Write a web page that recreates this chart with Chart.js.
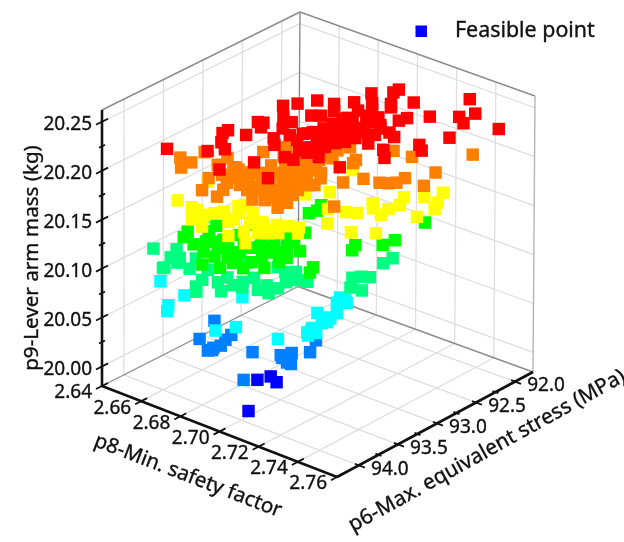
<!DOCTYPE html>
<html>
<head>
<meta charset="utf-8">
<title>Feasible points</title>
<script src="https://cdn.jsdelivr.net/npm/chart.js@4/dist/chart.umd.js"></script>
<style>
  html, body { margin: 0; padding: 0; background: #fff; }
  canvas { display: block; }
</style>
</head>
<body>
<canvas id="scatter3d" width="624" height="542"></canvas>
<script>
// tick labels
const p8TickLabels = ['2.64', '2.66', '2.68', '2.70', '2.72', '2.74', '2.76'];
const p6TickLabels = ['92.0', '92.5', '93.0', '93.5', '94.0'];
const p9TickLabels = ['20.00', '20.05', '20.10', '20.15', '20.20', '20.25'];
const p6MinorTicks = [92.25, 92.75, 93.25, 93.75];
const p9MinorTicks = [20.025, 20.075, 20.125, 20.175, 20.225];

// axis limits of the box
const p8Range = [2.64, 2.76];
const p6Range = [91.77, 94.28];
const p9Range = [19.98, 20.262];

// mass level of each group of points, and the colour it gets
const massLevels = [20.00, 20.04, 20.08, 20.11, 20.14, 20.17, 20.20, 20.23];
const levelColors = ['#0000ff', '#0080ff', '#00ffff', '#00ff80', '#00ff00', '#ffff00', '#ff8000', '#ff0000'];

// p8 min safety factor / p6 max equivalent stress
const p8Level0 = [2.693, 2.695, 2.700, 2.708];
const p6Level0 = [93.62, 93.50, 93.55, 94.11];

const p8Level1 = [2.669, 2.675, 2.684, 2.684, 2.685, 2.683, 2.682, 2.685, 2.698, 2.711, 2.708, 2.710, 2.714, 2.716, 2.710, 2.712, 2.715, 2.710];
const p6Level1 = [93.57, 93.91, 94.03, 93.96, 93.89, 93.78, 93.68, 94.00, 93.81, 94.25, 93.70, 93.61, 93.77, 93.77, 93.73, 93.70, 93.50, 93.30];

const p8Level2 = [2.653, 2.668, 2.669, 2.672, 2.697, 2.701, 2.686, 2.720, 2.715, 2.720, 2.717, 2.723, 2.724, 2.722, 2.717, 2.724, 2.724, 2.725, 2.728, 2.725, 2.725, 2.727, 2.718];
const p6Level2 = [93.86, 93.93, 94.16, 94.25, 94.26, 94.10, 93.64, 94.04, 93.12, 93.16, 93.21, 93.36, 93.47, 93.48, 93.46, 93.58, 93.70, 93.79, 93.75, 93.54, 93.74, 93.83, 93.13];

const p8Level3 = [2.649, 2.656, 2.659, 2.663, 2.671, 2.667, 2.681, 2.683, 2.686, 2.687, 2.693, 2.687, 2.694, 2.697, 2.703, 2.703, 2.708, 2.684, 2.677, 2.664, 2.707, 2.704, 2.709, 2.708, 2.713, 2.696, 2.724, 2.726, 2.729, 2.729, 2.734, 2.725, 2.725, 2.663, 2.693, 2.701, 2.662, 2.695];
const p6Level3 = [93.85, 93.73, 93.88, 94.08, 93.94, 93.76, 94.03, 94.16, 94.23, 93.98, 94.09, 93.86, 93.84, 93.92, 93.87, 93.76, 93.86, 93.55, 93.86, 93.92, 93.61, 93.41, 93.52, 93.74, 93.49, 93.44, 93.19, 93.13, 93.09, 93.34, 93.32, 92.82, 92.70, 94.06, 93.94, 93.47, 93.84, 93.72];

const p8Level4 = [2.662, 2.671, 2.666, 2.668, 2.677, 2.679, 2.687, 2.682, 2.682, 2.688, 2.689, 2.696, 2.697, 2.703, 2.709, 2.694, 2.702, 2.695, 2.684, 2.696, 2.700, 2.696, 2.710, 2.723, 2.725, 2.710, 2.691, 2.690, 2.692, 2.701, 2.700, 2.704, 2.723, 2.725, 2.731, 2.732, 2.731, 2.704, 2.687, 2.681, 2.693, 2.703, 2.692, 2.702, 2.696, 2.691, 2.703, 2.683, 2.672, 2.675, 2.710];
const p6Level4 = [93.55, 93.60, 93.84, 93.94, 93.88, 93.85, 93.85, 93.37, 94.04, 94.05, 94.23, 94.18, 94.04, 94.06, 93.94, 93.72, 93.69, 93.94, 93.91, 93.67, 93.62, 93.33, 93.51, 93.67, 93.76, 93.68, 92.92, 92.74, 92.84, 93.22, 93.42, 93.53, 93.13, 93.22, 92.98, 92.85, 92.44, 93.65, 93.65, 93.76, 93.85, 93.82, 93.98, 93.93, 93.49, 93.53, 93.41, 93.61, 93.72, 93.99, 93.78];

const p8Level5 = [2.660, 2.662, 2.670, 2.677, 2.684, 2.680, 2.689, 2.683, 2.687, 2.697, 2.706, 2.699, 2.691, 2.696, 2.701, 2.705, 2.707, 2.710, 2.699, 2.713, 2.716, 2.706, 2.702, 2.719, 2.718, 2.722, 2.731, 2.711, 2.696, 2.739, 2.721, 2.724, 2.730, 2.729, 2.730, 2.727, 2.742, 2.733, 2.743, 2.740, 2.736, 2.696, 2.673, 2.689, 2.704, 2.709, 2.682, 2.685, 2.678];
const p6Level5 = [93.44, 93.87, 93.89, 94.06, 94.11, 93.85, 93.83, 93.62, 93.71, 94.10, 94.11, 93.95, 93.64, 93.80, 93.75, 93.68, 93.85, 93.79, 93.72, 93.60, 93.69, 93.79, 92.93, 93.39, 93.13, 93.08, 93.39, 93.18, 93.09, 93.27, 92.86, 92.93, 92.98, 92.86, 92.74, 92.61, 92.82, 92.50, 92.62, 92.51, 92.34, 92.49, 93.90, 93.90, 93.90, 93.64, 93.78, 93.55, 93.93];

const p8Level6 = [2.655, 2.661, 2.661, 2.659, 2.676, 2.680, 2.688, 2.686, 2.683, 2.670, 2.669, 2.676, 2.684, 2.693, 2.700, 2.704, 2.712, 2.710, 2.680, 2.684, 2.703, 2.687, 2.692, 2.697, 2.701, 2.708, 2.708, 2.702, 2.696, 2.694, 2.728, 2.717, 2.697, 2.698, 2.709, 2.699, 2.695, 2.697, 2.712, 2.705, 2.696, 2.694, 2.721, 2.728, 2.731, 2.733, 2.733, 2.743, 2.739, 2.740, 2.723, 2.714, 2.708, 2.695, 2.684, 2.677, 2.700, 2.686, 2.705, 2.688, 2.697, 2.705, 2.708, 2.701, 2.702, 2.692, 2.686, 2.690, 2.688, 2.682, 2.691, 2.698, 2.710, 2.703, 2.677, 2.695, 2.697, 2.693, 2.679, 2.709, 2.675];
const p6Level6 = [93.66, 93.67, 93.80, 93.45, 93.13, 94.01, 94.02, 93.89, 93.77, 93.56, 93.41, 93.51, 93.60, 93.76, 93.87, 93.81, 93.85, 93.70, 92.94, 93.07, 93.59, 93.45, 93.36, 93.28, 93.20, 93.20, 93.37, 93.43, 93.54, 93.67, 93.53, 93.14, 92.71, 92.82, 92.81, 92.60, 93.06, 92.94, 93.73, 93.54, 93.10, 93.26, 92.98, 92.95, 92.91, 92.86, 92.75, 92.76, 92.51, 92.06, 92.41, 92.42, 92.75, 92.27, 93.49, 93.50, 92.85, 92.98, 93.12, 93.61, 93.68, 93.70, 93.49, 93.32, 93.11, 93.05, 93.28, 93.20, 93.73, 93.67, 93.43, 93.43, 93.33, 93.71, 93.68, 93.73, 93.19, 93.57, 93.52, 93.59, 93.80];

const p8Level7 = [2.663, 2.670, 2.670, 2.675, 2.676, 2.680, 2.678, 2.674, 2.676, 2.678, 2.688, 2.692, 2.672, 2.679, 2.685, 2.684, 2.675, 2.679, 2.686, 2.690, 2.686, 2.689, 2.696, 2.690, 2.709, 2.702, 2.706, 2.724, 2.712, 2.695, 2.696, 2.704, 2.706, 2.697, 2.699, 2.698, 2.701, 2.697, 2.705, 2.702, 2.702, 2.694, 2.696, 2.697, 2.691, 2.691, 2.697, 2.701, 2.703, 2.697, 2.697, 2.709, 2.724, 2.731, 2.734, 2.736, 2.750, 2.740, 2.722, 2.716, 2.715, 2.735, 2.739, 2.727, 2.732, 2.723, 2.719, 2.714, 2.703, 2.707, 2.705, 2.711, 2.719, 2.712, 2.705, 2.697, 2.705, 2.708, 2.704, 2.712, 2.703, 2.704, 2.708, 2.709, 2.702, 2.711, 2.701, 2.691, 2.716, 2.707, 2.708, 2.705, 2.708];
const p6Level7 = [94.03, 93.43, 93.50, 93.64, 93.84, 93.72, 93.40, 93.15, 93.13, 93.21, 93.30, 93.39, 92.78, 92.95, 93.11, 92.97, 92.67, 92.52, 92.48, 92.58, 92.77, 92.72, 93.75, 94.04, 93.90, 93.51, 93.50, 93.36, 93.33, 93.05, 93.20, 93.23, 93.33, 92.89, 92.77, 92.61, 92.62, 92.45, 92.79, 92.93, 93.10, 93.08, 93.00, 92.65, 92.35, 92.13, 92.27, 92.37, 92.18, 92.00, 91.93, 92.04, 91.70, 92.01, 91.88, 92.08, 91.98, 92.36, 92.16, 92.30, 92.38, 92.62, 92.69, 92.88, 92.99, 92.64, 92.60, 92.59, 92.47, 92.44, 92.23, 92.74, 92.87, 92.86, 92.85, 92.77, 92.72, 92.69, 92.52, 92.54, 93.03, 93.30, 93.15, 93.04, 92.73, 92.97, 93.30, 93.17, 92.71, 93.20, 92.75, 92.93, 92.54];

const p8Levels = [p8Level0, p8Level1, p8Level2, p8Level3, p8Level4, p8Level5, p8Level6, p8Level7];
const p6Levels = [p6Level0, p6Level1, p6Level2, p6Level3, p6Level4, p6Level5, p6Level6, p6Level7];

// screen position of the box corners, bottom and top
const cornersBottom = { L: [102, 386], F: [337, 477], R: [533, 372], B: [298, 286.5] };
const cornersTop = { L: [102, 110], F: [339, 201], R: [535, 96], B: [300, 12] };

const lerp = (p, q, t) => p + (q - p) * t;
const frac = (v, r) => (v - r[0]) / (r[1] - r[0]);

function bilinear(c, a, b, i) {
  return lerp(lerp(c.L[i], c.F[i], a), lerp(c.B[i], c.R[i], a), b);
}

// 3d value -> point on the chart's x/y scales
function project(p8, p6, p9) {
  const a = frac(p8, p8Range);
  const b = (p6Range[1] - p6) / (p6Range[1] - p6Range[0]);
  const t = frac(p9, p9Range);
  return {
    x: lerp(bilinear(cornersBottom, a, b, 0), bilinear(cornersTop, a, b, 0), t),
    y: lerp(bilinear(cornersBottom, a, b, 1), bilinear(cornersTop, a, b, 1), t)
  };
}

const [p8Lo, p8Hi] = p8Range;
const [p6Lo, p6Hi] = p6Range;
const [p9Lo, p9Hi] = p9Range;
const p8Ticks = p8TickLabels.map(Number);
const p6Ticks = p6TickLabels.map(Number);
const p9Ticks = p9TickLabels.map(Number);

function lineSet(from, to, color, width) {
  return {
    label: '',
    data: [project(...from), project(...to)],
    showLine: true,
    pointRadius: 0,
    borderColor: color,
    borderWidth: width,
    borderCapStyle: 'butt'
  };
}

const GRID = '#dedede';
const EDGE = '#8c8c8c';
const AXIS = '#111111';
const lines = [];

// axes and ticks go on top of the walls
lines.push(lineSet([p8Lo, p6Hi, p9Lo], [p8Lo, p6Hi, p9Hi], AXIS, 2.6));
lines.push(lineSet([p8Lo, p6Hi, p9Lo], [p8Hi, p6Hi, p9Lo], AXIS, 2.6));
lines.push(lineSet([p8Hi, p6Hi, p9Lo], [p8Hi, p6Lo, p9Lo], AXIS, 2.6));

const p6Step = (p6Hi - p6Lo) / 196;
const p8Step = (p8Hi - p8Lo) / 235;
p9Ticks.forEach(z => lines.push(lineSet([p8Lo, p6Hi + 6 * p6Step, z], [p8Lo, p6Hi - 6 * p6Step, z], AXIS, 1.8)));
p9MinorTicks.forEach(z => lines.push(lineSet([p8Lo, p6Hi + 3 * p6Step, z], [p8Lo, p6Hi - 3 * p6Step, z], AXIS, 1.8)));
p8Ticks.forEach(v => lines.push(lineSet([v, p6Hi + 6 * p6Step, p9Lo], [v, p6Hi - 6 * p6Step, p9Lo], AXIS, 1.8)));
p6Ticks.forEach(v => lines.push(lineSet([p8Hi + 6 * p8Step, v, p9Lo], [p8Hi - 4 * p8Step, v, p9Lo], AXIS, 1.8)));
p6MinorTicks.forEach(v => lines.push(lineSet([p8Hi + 3 * p8Step, v, p9Lo], [p8Hi - 3 * p8Step, v, p9Lo], AXIS, 1.8)));

// box edges
lines.push(lineSet([p8Lo, p6Lo, p9Lo], [p8Lo, p6Hi, p9Lo], EDGE, 1.4));
lines.push(lineSet([p8Lo, p6Lo, p9Lo], [p8Hi, p6Lo, p9Lo], EDGE, 1.4));
lines.push(lineSet([p8Lo, p6Lo, p9Lo], [p8Lo, p6Lo, p9Hi], EDGE, 1.4));
lines.push(lineSet([p8Hi, p6Lo, p9Lo], [p8Hi, p6Lo, p9Hi], '#b4b4b4', 1.4));
lines.push(lineSet([p8Lo, p6Hi, p9Hi], [p8Lo, p6Lo, p9Hi], EDGE, 1.4));
lines.push(lineSet([p8Lo, p6Lo, p9Hi], [p8Hi, p6Lo, p9Hi], EDGE, 1.4));

// wall and floor grid
p9Ticks.forEach(z => {
  lines.push(lineSet([p8Lo, p6Hi, z], [p8Lo, p6Lo, z], GRID, 1.3));
  lines.push(lineSet([p8Lo, p6Lo, z], [p8Hi, p6Lo, z], GRID, 1.3));
});
p6Ticks.forEach(v => {
  lines.push(lineSet([p8Lo, v, p9Lo], [p8Hi, v, p9Lo], GRID, 1.3));
  lines.push(lineSet([p8Lo, v, p9Lo], [p8Lo, v, p9Hi], GRID, 1.3));
});
p8Ticks.slice(1, -1).forEach(v => {
  lines.push(lineSet([v, p6Lo, p9Lo], [v, p6Hi, p9Lo], GRID, 1.3));
  lines.push(lineSet([v, p6Lo, p9Lo], [v, p6Lo, p9Hi], GRID, 1.3));
});

// Chart.js paints the first dataset last, so red goes first
const pointSets = massLevels.map((mass, i) => ({
  label: 'Feasible point',
  data: p8Levels[i].map((v, k) => project(v, p6Levels[i][k], mass)),
  pointStyle: 'rect',
  pointRadius: 8.8,
  pointBorderWidth: 0,
  backgroundColor: levelColors[i]
})).reverse();

const TICK_FONT = '19px "Noto Sans"';
const TITLE_FONT = '20.6px "Noto Sans"';

const labelsPlugin = {
  id: 'boxLabels',
  afterDraw(chart) {
    const { ctx, scales } = chart;
    const px = p => ({ x: scales.x.getPixelForValue(p.x), y: scales.y.getPixelForValue(p.y) });
    ctx.save();
    ctx.fillStyle = '#111';
    ctx.strokeStyle = '#111';
    ctx.lineWidth = 0.35;
    ctx.textBaseline = 'middle';
    const put = (s, x, y) => { ctx.fillText(s, x, y); ctx.strokeText(s, x, y); };

    ctx.font = TICK_FONT;
    ctx.textAlign = 'right';
    p9TickLabels.forEach((s, i) => {
      const p = px(project(p8Lo, p6Hi, p9Ticks[i]));
      put(s, p.x - 10, p.y + 3);
    });
    p8TickLabels.forEach((s, i) => {
      const p = px(project(p8Ticks[i], p6Hi, p9Lo));
      put(s, p.x - 10, p.y + 7);
    });
    ctx.textAlign = 'center';
    p6TickLabels.forEach((s, i) => {
      const p = px(project(p8Hi, p6Ticks[i], p9Lo));
      put(s, p.x + 31, p.y + 4);
    });

    ctx.font = TITLE_FONT;
    const rotated = (s, x, y, deg) => {
      ctx.save();
      ctx.translate(x, y);
      ctx.rotate(deg * Math.PI / 180);
      put(s, 0, 0);
      ctx.restore();
    };
    rotated('p9-Lever arm mass (kg)', 32, 258, -90);
    rotated('p8-Min. safety factor', 188, 476, 21);
    ctx.font = '21px "Noto Sans"';
    rotated('p6-Max. equivalent stress (MPa)', 487, 451, -29);

    // legend
    ctx.fillStyle = levelColors[0];
    ctx.fillRect(415.5, 25.5, 11.5, 11.5);
    ctx.fillStyle = '#111';
    ctx.textAlign = 'left';
    ctx.font = '21.4px "Noto Sans"';
    put('Feasible point', 455, 31);
    ctx.restore();
  }
};

new Chart(document.getElementById('scatter3d').getContext('2d'), {
  type: 'scatter',
  data: { datasets: [...pointSets, ...lines] },
  options: {
    responsive: false,
    animation: false,
    layout: { padding: 0, autoPadding: false },
    events: [],
    clip: false,
    scales: {
      x: { type: 'linear', display: false, min: 0, max: 624 },
      y: { type: 'linear', display: false, min: 0, max: 542, reverse: true }
    },
    plugins: {
      legend: { display: false },
      tooltip: { enabled: false }
    }
  },
  plugins: [labelsPlugin]
});
</script>
</body>
</html>
